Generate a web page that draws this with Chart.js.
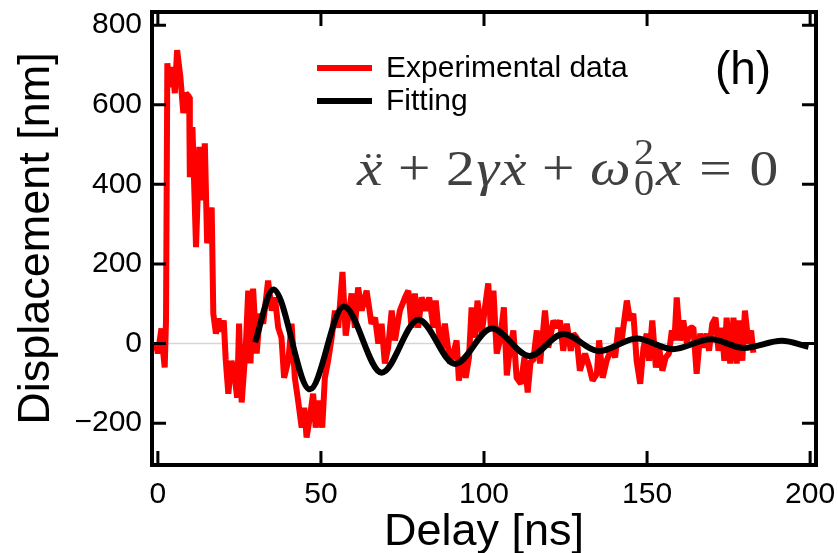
<!DOCTYPE html>
<html>
<head>
<meta charset="utf-8">
<script src="https://cdn.jsdelivr.net/npm/chart.js@4.4.1/dist/chart.umd.min.js"></script>
<style>
  html, body { margin: 0; padding: 0; background: #fff; }
</style>
</head>
<body>
<canvas id="delayChart" width="838" height="553"></canvas>
<script>
var expDelay = [-0.6, 0.0, 0.6, 1.1, 1.6, 2.1, 2.5, 2.9, 3.7, 4.5, 5.2, 5.9, 6.9, 7.8, 8.6, 9.6, 9.8, 10.6, 11.7, 12.7,
  13.4, 14.4, 15.1, 16.5, 17.0, 17.8, 18.6, 19.4, 20.2, 20.8, 21.6, 22.6, 23.6, 24.3, 24.9, 25.7, 27.0, 27.7, 28.4, 29.2,
  30.3, 31.3, 32.3, 33.8, 34.9, 35.9, 36.9, 37.9, 38.7, 40.0, 41.0, 42.0, 43.0, 44.1, 44.9, 45.6, 46.6, 47.6, 48.4, 49.4,
  50.4, 51.2, 52.2, 53.3, 54.3, 55.3, 56.6, 57.6, 59.4, 60.4, 61.4, 62.5, 64.0, 65.5, 66.6, 67.6, 68.6, 69.6, 70.6, 71.7,
  72.7, 74.2, 75.8, 76.8, 77.8, 78.8, 79.8, 80.9, 82.2, 83.2, 84.5, 85.2, 86.0, 87.0, 88.0, 89.6, 90.6, 91.6, 92.3, 93.3,
  94.4, 95.4, 96.2, 97.2, 98.0, 99.3, 100.3, 101.3, 102.1, 102.9, 103.9, 104.9, 106.1, 107.0, 108.0, 109.0, 110.0, 111.3, 112.4, 113.4,
  114.3, 115.1, 116.2, 117.2, 118.7, 119.7, 121.3, 122.3, 123.3, 124.3, 125.4, 126.6, 127.4, 128.4, 129.4, 131.0, 132.3, 133.3, 134.6, 135.3,
  136.4, 137.6, 139.2, 140.2, 141.2, 142.2, 143.8, 144.8, 145.8, 146.8, 147.9, 148.9, 149.9, 150.6, 151.6, 152.7, 153.7, 154.7, 155.7, 156.7,
  157.6, 158.4, 159.1, 160.1, 161.1, 162.2, 163.2, 164.2, 165.2, 166.3, 167.3, 168.3, 169.0, 170.0, 171.0, 171.9, 172.9, 173.7, 174.4, 175.5,
  176.5, 177.5, 178.2, 179.2, 180.0, 181.1, 181.9, 182.6];
var expDisp = [0, -25, 10, 38, -20, -60, 60, 704, 644, 695, 629, 737, 670, 579, 629, 620, 418, 544, 242, 494,
  360, 503, 252, 342, 75, 25, 63, 30, 58, -40, -126, -43, -86, -136, 50, -148, 0, 133, -50, 138,
  -25, 75, 50, 158, 83, 116, 40, 15, -86, -43, 50, -86, -143, -211, -161, -236, -186, -126, -211, -143,
  -211, -86, -43, 15, 83, 40, 180, 20, 126, 40, 141, 83, 133, 50, 65, 0, 50, -50, -10, 83,
  8, 83, 116, 133, 40, 126, 40, 116, 83, 116, 40, 108, 40, -18, 50, -50, -25, 8, -93, -35,
  -86, -35, 91, 15, 108, 25, 91, 151, 40, 133, -25, 8, 91, -80, -10, 33, -86, -101, -35, -123,
  -43, -43, 33, -50, 83, -10, 58, 40, 58, -18, 50, -18, 25, 15, -68, -25, -60, -93, -76, 8,
  -86, -43, -10, -35, 40, 8, 108, 58, 75, -43, -101, -10, 25, -43, 58, -60, -10, -68, -35, -25,
  33, 8, 116, 8, 58, 0, 40, 40, -76, 25, -10, 25, -18, 50, 65, -18, 40, -43, 65, -50,
  65, -50, 58, -43, 83, 0, 33, -23];

// damped oscillator fit (black): extrema
var fitDelay = [29.8, 35.4, 46.6, 57.0, 68.6, 79.9, 91.1, 102.4, 114.0, 124.3, 135.3, 146.8, 157.8, 169.5, 179.8, 191.3, 199.5];
var fitDisp = [3, 136, -115, 93, -73, 60, -51, 38, -31, 24, -19, 13, -14, 11, -11, 7, -8];

var xTickValues = [0, 50, 100, 150, 200];
var yTickValues = [-200, 0, 200, 400, 600, 800];

var sansFont = '"Liberation Sans", Arial, Helvetica, sans-serif';
var serifFont = '"Liberation Serif", "DejaVu Serif", serif';

function toPoints(xs, ys) {
  return xs.map(function (x, i) { return { x: x, y: ys[i] }; });
}

// x'' + 2 gamma x' + omega0^2 x = 0, typeset by hand and stretched to the target width
function drawEquation(ctx, left, baseline, targetWidth) {
  var s = 50;
  var it = 'italic ' + s + 'px ' + serifFont;
  var up = s + 'px ' + serifFont;
  var sm = (s * 0.7) + 'px ' + serifFont;
  var items = [
    { t: 'x', f: it, dots: 2 }, { gap: 0.24 }, { t: '+', f: up }, { gap: 0.24 },
    { t: '2', f: up }, { t: '\u03b3', f: it }, { t: 'x', f: it, dots: 1 },
    { gap: 0.24 }, { t: '+', f: up }, { gap: 0.24 },
    { t: '\u03c9', f: it }, { sup: '2', sub: '0', f: sm }, { t: 'x', f: it },
    { gap: 0.28 }, { t: '=', f: up }, { gap: 0.28 }, { t: '0', f: up }
  ];
  var w = 0;
  items.forEach(function (p) {
    if (p.gap) { p.w = p.gap * s; }
    else if (p.sup) { ctx.font = p.f; p.w = Math.max(ctx.measureText(p.sup).width, ctx.measureText(p.sub).width) + 0.06 * s; }
    else { ctx.font = p.f; p.w = ctx.measureText(p.t).width + 0.03 * s; }
    w += p.w;
  });
  var k = targetWidth / w;
  var x = 0;
  ctx.save();
  ctx.translate(left, baseline);
  ctx.scale(k, 1);
  ctx.fillStyle = '#404040';
  ctx.textBaseline = 'alphabetic';
  ctx.textAlign = 'left';
  items.forEach(function (p) {
    if (p.gap) { x += p.w; return; }
    ctx.font = p.f;
    if (p.sup) {
      ctx.fillText(p.sup, x + 0.03 * s, -0.42 * s);
      ctx.fillText(p.sub, x + 0.03 * s, 0.2 * s);
    } else {
      ctx.fillText(p.t, x, 0);
    }
    if (p.dots) {
      var cx = x + p.w / 2 + 0.05 * s, cy = -0.58 * s, r = 0.04 * s;
      var offs = p.dots === 2 ? [-0.09 * s, 0.09 * s] : [0];
      offs.forEach(function (o) {
        ctx.beginPath(); ctx.arc(cx + o, cy, r, 0, Math.PI * 2); ctx.fill();
      });
    }
    x += p.w;
  });
  ctx.restore();
}

var framePlugin = {
  id: 'frame',
  beforeDatasetsDraw: function (chart) {
    var ctx = chart.ctx, a = chart.chartArea;
    var y0 = chart.scales.y.getPixelForValue(0);
    ctx.save();
    ctx.strokeStyle = '#d6d6d6';
    ctx.lineWidth = 1.5;
    ctx.beginPath(); ctx.moveTo(a.left, y0); ctx.lineTo(a.right, y0); ctx.stroke();
    ctx.restore();
  },
  afterDatasetsDraw: function (chart) {
    var ctx = chart.ctx, a = chart.chartArea;
    var xs = chart.scales.x, ys = chart.scales.y;
    var tl = 14;
    ctx.save();
    ctx.strokeStyle = '#000';
    // inward ticks on all four sides
    ctx.lineWidth = 3;
    ctx.beginPath();
    xTickValues.forEach(function (v) {
      var px = xs.getPixelForValue(v);
      ctx.moveTo(px, a.bottom); ctx.lineTo(px, a.bottom - tl);
      ctx.moveTo(px, a.top); ctx.lineTo(px, a.top + tl);
    });
    yTickValues.forEach(function (v) {
      var py = ys.getPixelForValue(v);
      ctx.moveTo(a.left, py); ctx.lineTo(a.left + tl, py);
      ctx.moveTo(a.right, py); ctx.lineTo(a.right - tl, py);
    });
    ctx.stroke();
    ctx.lineWidth = 4;
    ctx.strokeRect(a.left, a.top, a.right - a.left, a.bottom - a.top);

    // legend inside the frame
    var ds = chart.data.datasets;
    var legendRows = [ds[1], ds[0]];
    ctx.font = '30px ' + sansFont;
    ctx.textBaseline = 'middle';
    ctx.textAlign = 'left';
    legendRows.forEach(function (d, i) {
      var y = 68 + i * 33;
      ctx.strokeStyle = d.borderColor;
      ctx.lineWidth = 6;
      ctx.beginPath(); ctx.moveTo(317, y); ctx.lineTo(372, y); ctx.stroke();
      ctx.fillStyle = '#000';
      ctx.fillText(d.label, 386, y + 1);
    });

    // panel tag
    ctx.font = '46px ' + sansFont;
    ctx.textAlign = 'center';
    ctx.fillText('(h)', 743, 71);
    ctx.restore();

    drawEquation(ctx, 357, 185, 423);
  }
};

var ctx = document.getElementById('delayChart');
var delayChart = new Chart(ctx, {
  type: 'line',
  data: {
    datasets: [{
      label: 'Fitting',
      data: toPoints(fitDelay, fitDisp),
      borderColor: '#000000',
      borderWidth: 6,
      pointRadius: 0,
      cubicInterpolationMode: 'monotone',
      order: 0
    }, {
      label: 'Experimental data',
      data: toPoints(expDelay, expDisp),
      borderColor: '#ff0000',
      borderWidth: 6,
      borderJoinStyle: 'bevel',
      pointRadius: 0,
      tension: 0,
      order: 1
    }]
  },
  options: {
    responsive: false,
    animation: false,
    layout: { padding: { top: 12, right: 22, left: 0, bottom: 0 } },
    plugins: { legend: { display: false }, tooltip: { enabled: false } },
    scales: {
      x: {
        type: 'linear',
        min: -1.8,
        max: 201.8,
        afterBuildTicks: function (s) { s.ticks = xTickValues.map(function (v) { return { value: v }; }); },
        afterFit: function (s) { s.height = 88; s.paddingLeft = 0; s.paddingRight = 0; },
        grid: { display: false, drawTicks: false },
        border: { display: false },
        ticks: { padding: 12, color: '#000', font: { family: sansFont, size: 30 }, maxRotation: 0, autoSkip: false },
        title: { display: true, text: 'Delay [ns]', color: '#000', font: { family: sansFont, size: 45, lineHeight: 0.9 }, padding: 0 }
      },
      y: {
        type: 'linear',
        min: -305,
        max: 833,
        afterBuildTicks: function (s) { s.ticks = yTickValues.map(function (v) { return { value: v }; }); },
        afterFit: function (s) { s.width = 152; s.paddingTop = 0; s.paddingBottom = 0; },
        grid: { display: false, drawTicks: false },
        border: { display: false },
        ticks: {
          padding: 10, color: '#000', font: { family: sansFont, size: 30 }, autoSkip: false,
          callback: function (v) { return v < 0 ? '\u2212' + Math.abs(v) : String(v); }
        },
        title: { display: true, text: 'Displacement [nm]', color: '#000', font: { family: sansFont, size: 45, lineHeight: 1 }, padding: { top: 14, bottom: 0 } }
      }
    }
  },
  plugins: [framePlugin]
});
</script>
</body>
</html>
